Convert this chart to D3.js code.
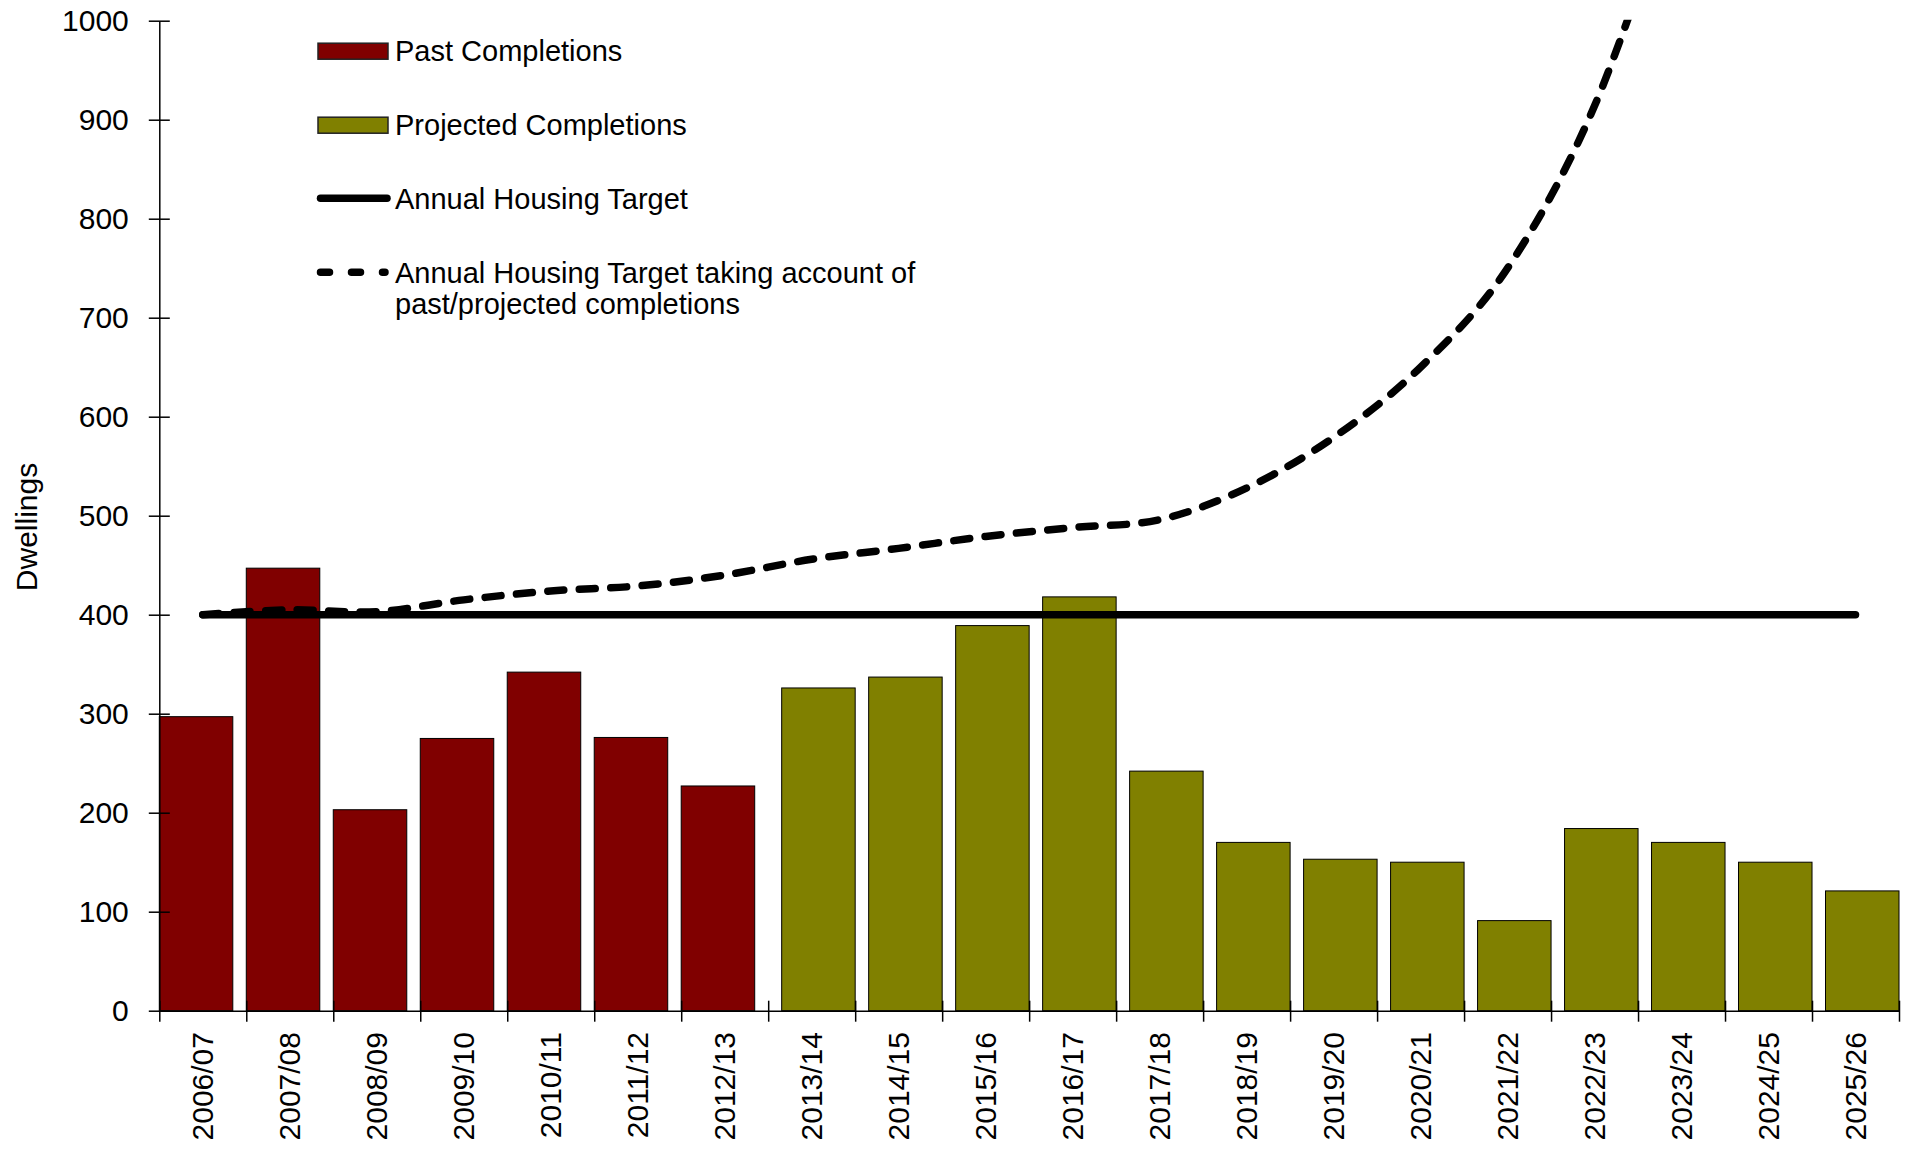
<!DOCTYPE html>
<html>
<head>
<meta charset="utf-8">
<script src="https://d3js.org/d3.v7.min.js"></script>
<style>
    body { margin: 0; background: #fff; }
    svg text { font-family: "Liberation Sans", Arial, sans-serif; fill: #000; }
</style>
</head>
<body>
<svg id="chart" width="1905" height="1152"></svg>
<script>
// Data
var categories = ["2006/07", "2007/08", "2008/09", "2009/10", "2010/11", "2011/12", "2012/13",
    "2013/14", "2014/15", "2015/16", "2016/17", "2017/18", "2018/19", "2019/20", "2020/21",
    "2021/22", "2022/23", "2023/24", "2024/25", "2025/26"];

var pastCompletions = [297, 447, 203, 275, 342, 276, 227,
    null, null, null, null, null, null, null, null, null, null, null, null, null];

var projectedCompletions = [null, null, null, null, null, null, null,
    326, 337, 389, 418, 242, 170, 153, 150, 91, 184, 170, 150, 121];

var annualTarget = [400, 400, 400, 400, 400, 400, 400, 400, 400, 400,
    400, 400, 400, 400, 400, 400, 400, 400, 400, 400];

// runs off the top of the chart after 2022/23
var adjustedTarget = [400, 405, 403, 415, 424, 429, 440, 456, 467, 479,
    488, 496, 528, 579, 650, 750, 914, 1158];

var yTicks = [0, 100, 200, 300, 400, 500, 600, 700, 800, 900, 1000];

var legendLabels = [
    ["Past Completions"],
    ["Projected Completions"],
    ["Annual Housing Target"],
    ["Annual Housing Target taking account of", "past/projected completions"]
];

var yTitle = "Dwellings";

// Style
var style = {
    left: 159.3,
    right: 1899,
    top: 20.7,
    bottom: 1010.7,
    barWidth: 73.5,
    tickSize: 10.5,
    axisFont: 30,
    legendFont: 29,
    fontFamily: "Liberation Sans, Arial, sans-serif",
    pastColor: "#800000",
    projectedColor: "#808000",
    lineWidth: 7.5
};

var svg = d3.select("#chart");

var x = d3.scaleBand()
    .domain(categories)
    .range([style.left, style.right])
    .padding(0);

var edge = d3.scaleLinear()
    .domain([0, categories.length])
    .range([style.left, style.right]);

var y = d3.scaleLinear()
    .domain([0, 1000])
    .range([style.bottom, style.top]);

var rows = categories.map(function(c, i) {
    return { cat: c, past: pastCompletions[i], projected: projectedCompletions[i] };
});

// Past bars sit at the left of their slot, projected ones at the right
svg.append("g")
    .selectAll("rect")
    .data(rows.filter(function(d) { return d.past != null; }))
    .join("rect")
    .attr("x", function(d) { return x(d.cat); })
    .attr("y", function(d) { return y(d.past); })
    .attr("width", style.barWidth)
    .attr("height", function(d) { return y(0) - y(d.past); })
    .attr("fill", style.pastColor)
    .attr("stroke", "#000")
    .attr("stroke-width", 1);

svg.append("g")
    .selectAll("rect")
    .data(rows.filter(function(d) { return d.projected != null; }))
    .join("rect")
    .attr("x", function(d) { return x(d.cat) + x.bandwidth() - style.barWidth; })
    .attr("y", function(d) { return y(d.projected); })
    .attr("width", style.barWidth)
    .attr("height", function(d) { return y(0) - y(d.projected); })
    .attr("fill", style.projectedColor)
    .attr("stroke", "#000")
    .attr("stroke-width", 1);

// Y axis, ticks cross the line
var gy = svg.append("g")
    .attr("transform", "translate(" + style.left + ",0)")
    .call(d3.axisLeft(y)
        .tickValues(yTicks)
        .tickFormat(d3.format("d"))
        .tickSize(style.tickSize)
        .tickSizeOuter(0)
        .tickPadding(20))
    .attr("font-size", style.axisFont)
    .attr("font-family", style.fontFamily);

gy.selectAll(".tick line").attr("x1", style.tickSize);
gy.selectAll("path, line").attr("stroke", "#000").attr("stroke-width", 1.5);

// X axis: ticks on the slot edges
var gx = svg.append("g")
    .attr("transform", "translate(0," + style.bottom + ")")
    .call(d3.axisBottom(edge)
        .tickValues(d3.range(categories.length + 1))
        .tickFormat("")
        .tickSize(11)
        .tickSizeOuter(0));

gx.selectAll(".tick line").attr("y1", -10);
gx.selectAll("path, line").attr("stroke", "#000").attr("stroke-width", 1.5);

// Category labels
var gl = svg.append("g")
    .attr("transform", "translate(0," + style.bottom + ")")
    .call(d3.axisBottom(x).tickSize(0).tickPadding(0))
    .attr("font-size", style.axisFont)
    .attr("font-family", style.fontFamily);

gl.select(".domain").remove();
gl.selectAll(".tick text")
    .attr("transform", "rotate(-90)")
    .attr("x", -21.3)
    .attr("y", 0)
    .attr("dy", "0.35em")
    .attr("text-anchor", "end");

// Y title
svg.append("text")
    .attr("transform", "translate(37,527) rotate(-90)")
    .attr("text-anchor", "middle")
    .attr("font-size", style.axisFont)
    .text(yTitle);

// Lines
var line = d3.line()
    .x(function(d, i) { return x(categories[i]) + x.bandwidth() / 2; })
    .y(function(d) { return y(d); });

svg.append("clipPath")
    .attr("id", "plotClip")
    .append("rect")
    .attr("x", style.left)
    .attr("y", style.top - 1)
    .attr("width", style.right - style.left + 10)
    .attr("height", style.bottom - style.top + 1);

svg.append("path")
    .datum(annualTarget)
    .attr("d", line)
    .attr("fill", "none")
    .attr("stroke", "#000")
    .attr("stroke-width", style.lineWidth)
    .attr("stroke-linecap", "round");

svg.append("path")
    .datum(adjustedTarget)
    .attr("d", line.curve(d3.curveCatmullRom.alpha(0)))
    .attr("clip-path", "url(#plotClip)")
    .attr("fill", "none")
    .attr("stroke", "#000")
    .attr("stroke-width", style.lineWidth)
    .attr("stroke-linecap", "round")
    .attr("stroke-dasharray", "16,15.5");

// Legend
var legend = svg.append("g");
var legendTop = 60.7;
var legendStep = 74;

legendLabels.forEach(function(lines, i) {
    var by = legendTop + i * legendStep;

    if (i < 2) {
        legend.append("rect")
            .attr("x", 318)
            .attr("y", by - 17.5)
            .attr("width", 70)
            .attr("height", 16)
            .attr("fill", i == 0 ? style.pastColor : style.projectedColor)
            .attr("stroke", "#222")
            .attr("stroke-width", 1.5);
    }
    else {
        legend.append("line")
            .attr("x1", 320.5)
            .attr("x2", i == 2 ? 387 : 385)
            .attr("y1", by - 10.5)
            .attr("y2", by - 10.5)
            .attr("stroke", "#000")
            .attr("stroke-width", style.lineWidth)
            .attr("stroke-linecap", "round")
            .attr("stroke-dasharray", i == 3 ? "9,22" : null);
    }

    lines.forEach(function(t, j) {
        legend.append("text")
            .attr("x", 395)
            .attr("y", by + j * 31.5)
            .attr("font-size", style.legendFont)
            .text(t);
    });
});
</script>
</body>
</html>
